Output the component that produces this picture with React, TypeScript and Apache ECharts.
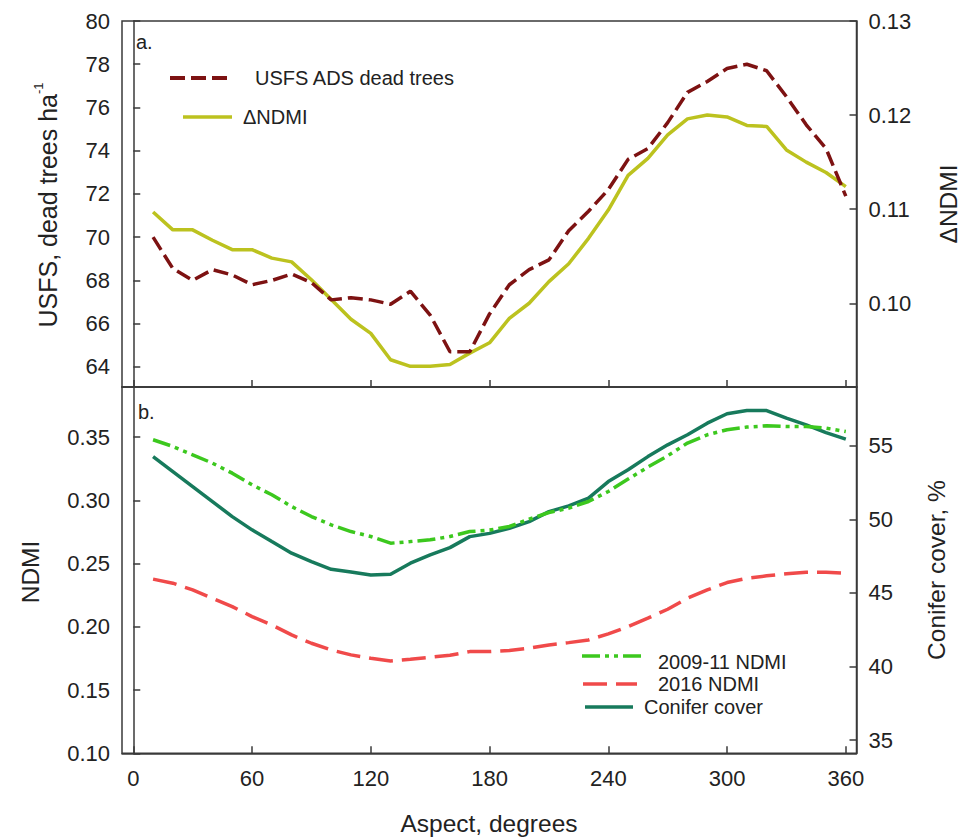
import React, { useEffect, useRef } from "react";
import * as echarts from "echarts";

const ASPECT = [10, 20, 30, 40, 50, 60, 70, 80, 90, 100, 110, 120, 130, 140, 150, 160, 170, 180, 190, 200, 210, 220, 230, 240, 250, 260, 270, 280, 290, 300, 310, 320, 330, 340, 350, 360];
const USFS_DEAD = [70.0, 68.55, 68.0, 68.5, 68.25, 67.8, 68.0, 68.3, 67.9, 67.1, 67.2, 67.1, 66.9, 67.5, 66.4, 64.7, 64.7, 66.45, 67.8, 68.5, 68.95, 70.3, 71.2, 72.2, 73.6, 74.1, 75.3, 76.7, 77.2, 77.8, 78.0, 77.7, 76.5, 75.2, 74.1, 71.9];
const DELTA_NDMI = [0.1097, 0.1078, 0.1078, 0.1067, 0.1057, 0.1057, 0.1048, 0.1044, 0.1025, 0.1004, 0.0983, 0.0968, 0.094, 0.0933, 0.0933, 0.0935, 0.0947, 0.0958, 0.0984, 0.1, 0.1023, 0.1042, 0.1069, 0.1099, 0.1136, 0.1154, 0.1179, 0.1196, 0.12, 0.1198, 0.1189, 0.1188, 0.1163, 0.115, 0.1139, 0.1124];
const NDMI_2009_11 = [0.3479, 0.3426, 0.336, 0.3294, 0.3215, 0.3123, 0.3044, 0.2951, 0.2872, 0.2806, 0.2753, 0.2714, 0.2661, 0.2674, 0.2688, 0.2714, 0.2753, 0.2765, 0.2793, 0.2851, 0.2904, 0.2938, 0.2991, 0.307, 0.3168, 0.3263, 0.3352, 0.3453, 0.3518, 0.3558, 0.3579, 0.3589, 0.3584, 0.3584, 0.3571, 0.3544];
const NDMI_2016 = [0.2377, 0.2345, 0.2292, 0.2226, 0.216, 0.2081, 0.2015, 0.1936, 0.187, 0.1817, 0.1778, 0.1752, 0.173, 0.1744, 0.1759, 0.1775, 0.1804, 0.1804, 0.1812, 0.1831, 0.1857, 0.1875, 0.1896, 0.1944, 0.2002, 0.2068, 0.2139, 0.2226, 0.2292, 0.235, 0.2384, 0.2403, 0.2419, 0.2432, 0.2432, 0.2424];
const CONIFER_COVER = [54.27, 53.25, 52.23, 51.21, 50.19, 49.29, 48.49, 47.7, 47.13, 46.61, 46.43, 46.22, 46.27, 47.02, 47.59, 48.08, 48.83, 49.05, 49.4, 49.85, 50.53, 50.92, 51.44, 52.57, 53.37, 54.27, 55.07, 55.75, 56.54, 57.18, 57.4, 57.4, 56.88, 56.43, 55.9, 55.46];

const X_TICKS = [0, 60, 120, 180, 240, 300, 360];
const USFS_TICKS = [64, 66, 68, 70, 72, 74, 76, 78, 80];
const DNDMI_TICKS = [0.1, 0.11, 0.12, 0.13];
const NDMI_TICKS = [0.1, 0.15, 0.2, 0.25, 0.3, 0.35];
const CONIFER_TICKS = [35, 40, 45, 50, 55];

const FONT = "'Liberation Sans', Arial, Helvetica, sans-serif";
const AXIS_COLOR = "#3a3a3a";
const C_USFS = "#7d1212";
const C_DNDMI = "#bcc21f";
const C_0911 = "#3cc81e";
const C_2016 = "#f04a4a";
const C_CONIFER = "#177a5c";

const pairs = (ys: number[]) => ASPECT.map((x, i) => [x, ys[i]]);

export default function App() {
  const ref = useRef<HTMLDivElement>(null);
  useEffect(() => {
    if (!ref.current) return;
    const chart = echarts.init(ref.current, null, { renderer: "svg" });
    const labelStyle = { color: "#222", fontSize: 22, fontFamily: FONT };
    const yBase = (grid: number, pos: "left" | "right", min: number, max: number, ticks: number[], fmt: (v: number) => string) => ({
      type: "value",
      gridIndex: grid,
      position: pos,
      min,
      max,
      axisLine: { show: true, lineStyle: { color: AXIS_COLOR, width: 1.5 } },
      axisTick: { show: true, inside: true, length: 7, customValues: ticks, lineStyle: { color: AXIS_COLOR, width: 1.5 } },
      axisLabel: { ...labelStyle, margin: 12, customValues: ticks, formatter: (v: number) => fmt(v) },
      splitLine: { show: false },
    });
    const xBase = (grid: number, showLabels: boolean) => ({
      type: "value",
      gridIndex: grid,
      min: -5.7,
      max: 365.4,
      axisLine: { show: true, lineStyle: { color: AXIS_COLOR, width: 1.5 } },
      axisTick: { show: true, inside: true, length: 7, customValues: X_TICKS, lineStyle: { color: AXIS_COLOR, width: 1.5 } },
      axisLabel: { ...labelStyle, show: showLabels, margin: 14, customValues: X_TICKS },
      splitLine: { show: false },
    });
    const legendText = (text: string, x: number, y: number) => ({
      type: "text",
      x,
      y,
      style: { text, fontSize: 20, fontFamily: FONT, fill: "#222", textVerticalAlign: "middle", textAlign: "left" },
    });
    const legendLine = (x1: number, x2: number, y: number, color: string, width: number, dash: any) => ({
      type: "line",
      shape: { x1, y1: y, x2, y2: y },
      style: { stroke: color, lineWidth: width, lineDash: dash },
    });
    const title = (text: string, x: number, y: number, rotated: boolean) => ({
      type: "text",
      x,
      y,
      rotation: rotated ? Math.PI / 2 : 0,
      style: { text, fontSize: 24.5, fontFamily: FONT, fill: "#222", textAlign: "center", textVerticalAlign: "middle" },
    });
    chart.setOption({
      animation: false,
      grid: [
        { left: 122, right: 104.5, top: 21, height: 366, show: true, borderColor: AXIS_COLOR, borderWidth: 1.5 },
        { left: 122, right: 104.5, top: 387, height: 366.3, show: true, borderColor: AXIS_COLOR, borderWidth: 1.5 },
      ],
      xAxis: [xBase(0, false), xBase(1, true)],
      yAxis: [
        yBase(0, "left", 63.07, 80, USFS_TICKS, (v) => String(v)),
        yBase(0, "right", 0.0911, 0.13, DNDMI_TICKS, (v) => v.toFixed(2)),
        yBase(1, "left", 0.1, 0.3896, NDMI_TICKS, (v) => v.toFixed(2)),
        yBase(1, "right", 34.1, 59, CONIFER_TICKS, (v) => String(v)),
      ],
      series: [
        { name: "USFS ADS dead trees", type: "line", xAxisIndex: 0, yAxisIndex: 0, data: pairs(USFS_DEAD), showSymbol: false, lineStyle: { color: C_USFS, width: 3.5, type: [15, 6] }, z: 3 },
        { name: "ΔNDMI", type: "line", xAxisIndex: 0, yAxisIndex: 1, data: pairs(DELTA_NDMI), showSymbol: false, lineStyle: { color: C_DNDMI, width: 3.5 }, z: 2 },
        { name: "2009-11 NDMI", type: "line", xAxisIndex: 1, yAxisIndex: 2, data: pairs(NDMI_2009_11), showSymbol: false, lineStyle: { color: C_0911, width: 3.5, type: [18, 5, 4, 5, 4, 5] }, z: 3 },
        { name: "2016 NDMI", type: "line", xAxisIndex: 1, yAxisIndex: 2, data: pairs(NDMI_2016), showSymbol: false, lineStyle: { color: C_2016, width: 3.5, type: [24, 9] }, z: 3 },
        { name: "Conifer cover", type: "line", xAxisIndex: 1, yAxisIndex: 3, data: pairs(CONIFER_COVER), showSymbol: false, lineStyle: { color: C_CONIFER, width: 3.5 }, z: 2 },
      ],
      graphic: [
        { type: "text", x: 136, y: 42, style: { text: "a.", fontSize: 20, fontFamily: FONT, fill: "#222", textVerticalAlign: "middle" } },
        { type: "text", x: 138, y: 412, style: { text: "b.", fontSize: 20, fontFamily: FONT, fill: "#222", textVerticalAlign: "middle" } },
        legendLine(170, 233, 78, C_USFS, 4, [15, 6]),
        legendText("USFS ADS dead trees", 255, 78),
        legendLine(183, 232, 117, C_DNDMI, 3.5, null),
        legendText("ΔNDMI", 243, 117),
        legendLine(582, 645, 656, C_0911, 3.5, [18, 5, 4, 5, 4, 5]),
        legendText("2009-11 NDMI", 658, 662),
        legendLine(583, 637, 684, C_2016, 3.5, [24, 9]),
        legendText("2016 NDMI", 658, 684),
        legendLine(585, 633, 707, C_CONIFER, 3.5, null),
        legendText("Conifer cover", 644, 707),
        {
          type: "text",
          x: 46,
          y: 205,
          rotation: Math.PI / 2,
          style: {
            text: "{a|USFS, dead trees ha}{b|-1}",
            textAlign: "center",
            textVerticalAlign: "middle",
            rich: {
              a: { fontSize: 25, fontFamily: FONT, fill: "#222", lineHeight: 28, verticalAlign: "bottom" },
              b: { fontSize: 13, fontFamily: FONT, fill: "#222", lineHeight: 28, verticalAlign: "top" },
            },
          },
        },
        title("NDMI", 30, 572, true),
        title("ΔNDMI", 948, 204, true),
        title("Conifer cover, %", 936, 570, true),
        title("Aspect, degrees", 489, 823, false),
      ],
    });
    return () => chart.dispose();
  }, []);
  return <div ref={ref} style={{ position: "absolute", left: 0, top: 0, width: 961, height: 840, background: "#fff" }} />;
}
